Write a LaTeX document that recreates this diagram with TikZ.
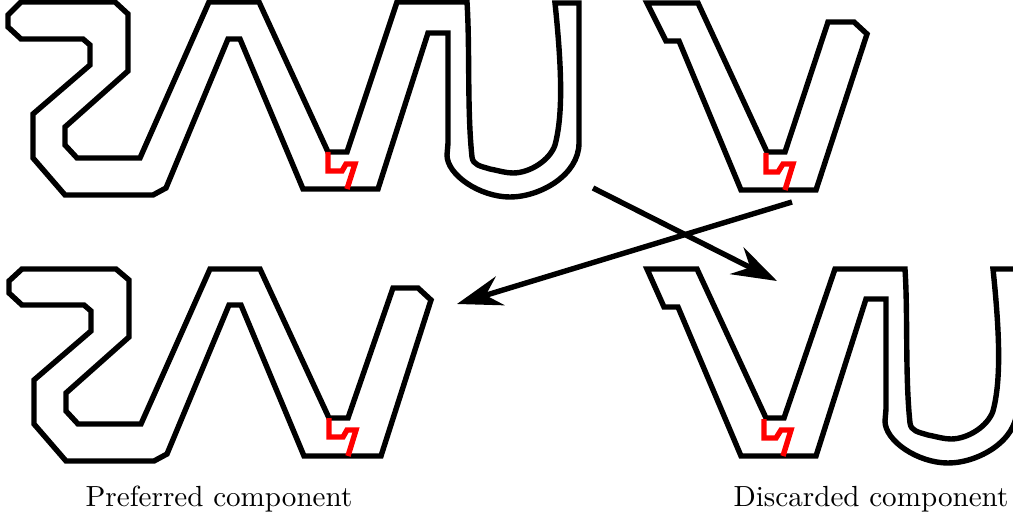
\documentclass[tikz,border=0pt]{standalone}
\usepackage{amsmath}
\usepackage{amssymb}
\usetikzlibrary{arrows.meta}

\tikzset{
    outline/.style={line width=1.8pt},
    cutline/.style={line width=1.8pt,red},
    swaparrow/.style={line width=1.8pt,-{Stealth[length=15pt,width=10pt,inset=5pt]}},
    caption/.style={inner sep=0pt,font=\fontsize{9.7}{11.6}\selectfont}
}

\begin{document}
\begin{tikzpicture}[x=0.3333pt,y=-0.3333pt]
    \useasboundingbox (0,0) rectangle (1013,522);
    \clip (0,0) rectangle (1013,522);
    % top left
    \draw[outline] (21,2) -- (115,2) -- (128,14) -- (128,71) -- (65,127) -- (65,145) -- (77,158) -- (140,158) -- (209,2) -- (259,2) -- (328,152) -- (347,152) -- (397,2) -- (467,2)
        .. controls (470,50) and (467,110) .. (472,157) .. controls (473,165) and (480,166) .. (490,169) .. controls (500,171) and (506,173) .. (513,173) .. controls (530,173) and (550,160) .. (555,145) .. controls (563,115) and (562,70) .. (555,3)
        -- (579,3) -- (579,143)
        .. controls (579,175) and (540,197) .. (510,197) .. controls (480,197) and (447,175) .. (447,155)
        -- (448,143) -- (448,33) -- (428,33) -- (378,189) -- (303,189) -- (240,39) -- (228,39) -- (166,188) -- (153,195) -- (65,195) -- (33,158) -- (33,114) -- (90,65) -- (90,45) -- (83,39) -- (21,39) -- (8,27) -- (8,15) -- cycle;
    \draw[cutline] (328,152) -- (328,171) -- (342,171) -- (346,164) -- (355,164) -- (347,189);
    % top right
    \draw[outline] (647,3) -- (698,3) -- (767,152) -- (785,152) -- (828,22) -- (854,22) -- (867,34) -- (816,190) -- (741,190) -- (679,41) -- (666,41) -- cycle;
    \draw[cutline] (766,153) -- (766,172) -- (778,172) -- (783,164) -- (793,164) -- (785,190);
    % bottom left
    \draw[outline] (22,269) -- (116,269) -- (129,280) -- (129,337) -- (66,393) -- (66,411) -- (78,424) -- (141,424) -- (210,269) -- (260,269) -- (329,418) -- (348,418) -- (393,288) -- (418,288) -- (431,300) -- (381,456) -- (304,456) -- (241,305) -- (229,305) -- (167,454) -- (154,461) -- (66,461) -- (34,424) -- (34,380) -- (91,331) -- (91,311) -- (84,305) -- (22,305) -- (9,293) -- (9,281) -- cycle;
    \draw[cutline] (329,418) -- (329,437) -- (343,437) -- (347,430) -- (356,430) -- (348,456);
    % bottom right
    \draw[outline] (647,269) -- (697,269) -- (766,418) -- (784,418) -- (835,269) -- (905,269)
        .. controls (908,316) and (905,376) .. (910,423) .. controls (911,431) and (918,432) .. (928,435) .. controls (938,437) and (944,439) .. (951,439) .. controls (968,439) and (988,426) .. (993,411) .. controls (1001,381) and (1000,336) .. (993,269)
        -- (1017,269) -- (1017,409)
        .. controls (1017,441) and (978,463) .. (948,463) .. controls (918,463) and (885,441) .. (885,421)
        -- (886,409) -- (886,299) -- (866,299) -- (816,456) -- (741,456) -- (678,307) -- (664,307) -- cycle;
    \draw[cutline] (764,419) -- (764,438) -- (776,438) -- (781,430) -- (791,430) -- (783,456);
    % arrows
    \coordinate (prefstart) at (593,188);
    \coordinate (prefend) at (777,281);
    \coordinate (discstart) at (792,202);
    \coordinate (discend) at (457,304);
    \draw[swaparrow] (prefstart) -- (prefend);
    \draw[swaparrow] (discstart) -- (discend);
    % labels
    \node[caption] (preferred) at (219,499) {Preferred component};
    \node[caption] (discarded) at (871,499) {Discarded component};
\end{tikzpicture}
\end{document}
